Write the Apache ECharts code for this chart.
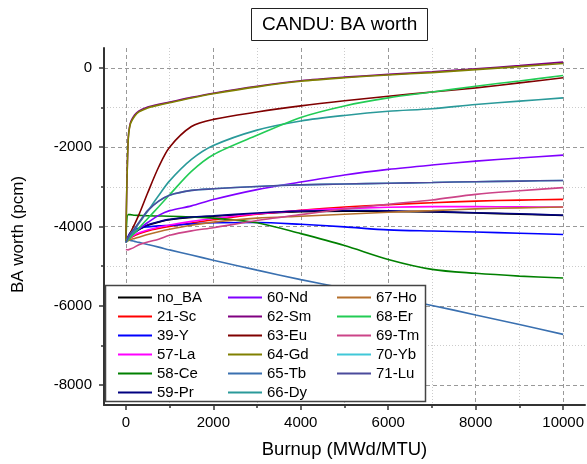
<!DOCTYPE html>
<html>
<head>
<meta charset="utf-8">
<script src="https://cdn.jsdelivr.net/npm/echarts@6/dist/echarts.min.js"></script>
<style>
  html, body { margin: 0; padding: 0; background: #fff; }
  #chart { width: 587px; height: 464px; }
</style>
</head>
<body>
<div id="chart"></div>
<script>
// burnup points (MWd/MTU)
const burnup = [0, 50, 100, 200, 300, 500, 750, 1000, 1500, 2000, 3000, 4000, 5000, 6000, 7000, 8000, 9000, 10000]

// BA worth (pcm)
const noBA = [-4400, -4330, -4260, -4160, -4080, -3970, -3890, -3830, -3770, -3740, -3680, -3630, -3615, -3620, -3635, -3660, -3690, -3720]
const sc21 = [-4400, -4340, -4290, -4230, -4180, -4110, -4050, -4000, -3910, -3830, -3690, -3590, -3510, -3450, -3400, -3360, -3335, -3315]
const y39 = [-4400, -4250, -4150, -4080, -4040, -4010, -3985, -3970, -3935, -3905, -3900, -3945, -4010, -4085, -4115, -4140, -4170, -4200]
const la57 = [-4400, -4330, -4280, -4210, -4160, -4090, -4020, -3960, -3870, -3800, -3680, -3600, -3550, -3515, -3500, -3500, -3505, -3510]
const ce58 = [-4370, -3700, -3700, -3715, -3720, -3730, -3735, -3740, -3760, -3790, -3905, -4180, -4480, -4830, -5080, -5180, -5250, -5300]
const pr59 = [-4400, -4320, -4250, -4150, -4070, -3960, -3880, -3820, -3760, -3730, -3660, -3610, -3595, -3605, -3625, -3652, -3680, -3715]
const nd60 = [-4350, -4290, -4230, -4140, -4060, -3900, -3720, -3600, -3480, -3320, -3070, -2880, -2700, -2560, -2450, -2352, -2275, -2200]
const sm62 = [-4370, -1870, -1400, -1190, -1085, -990, -920, -865, -745, -640, -465, -325, -235, -165, -100, -25, 55, 145]
const eu63 = [-4400, -4290, -4170, -3940, -3700, -3150, -2500, -2000, -1480, -1300, -1115, -960, -830, -715, -610, -505, -380, -252]
const gd64 = [-4370, -1900, -1430, -1220, -1110, -1010, -940, -880, -760, -655, -480, -340, -250, -180, -120, -45, 30, 110]
const tb65 = [-4320, -4335, -4350, -4375, -4400, -4455, -4520, -4590, -4720, -4850, -5100, -5340, -5560, -5770, -5990, -6230, -6470, -6720]
const dy66 = [-4400, -4320, -4240, -4080, -3920, -3610, -3220, -2850, -2310, -1960, -1570, -1340, -1200, -1095, -1030, -925, -840, -757]
const ho67 = [-4400, -4360, -4330, -4300, -4270, -4200, -4130, -4070, -3970, -3890, -3790, -3740, -3690, -3640, -3600, -3555, -3530, -3510]
const er68 = [-4400, -4340, -4280, -4160, -4040, -3800, -3500, -3200, -2610, -2190, -1700, -1250, -960, -757, -610, -463, -330, -194]
const tm69 = [-4580, -4590, -4570, -4520, -4460, -4390, -4320, -4220, -4110, -4030, -3850, -3700, -3560, -3440, -3330, -3190, -3100, -3020]
const yb70 = [-4400, -4300, -4200, -4050, -3900, -3600, -3360, -3210, -3090, -3050, -2990, -2950, -2930, -2910, -2890, -2870, -2855, -2840]
const lu71 = [-4400, -4300, -4200, -4050, -3900, -3600, -3360, -3210, -3090, -3050, -2990, -2950, -2930, -2910, -2890, -2870, -2855, -2840]

const names = ['no_BA', '21-Sc', '39-Y', '57-La', '58-Ce', '59-Pr', '60-Nd', '62-Sm', '63-Eu', '64-Gd', '65-Tb', '66-Dy', '67-Ho', '68-Er', '69-Tm', '70-Yb', '71-Lu']
const values = [noBA, sc21, y39, la57, ce58, pr59, nd60, sm62, eu63, gd64, tb65, dy66, ho67, er68, tm69, yb70, lu71]
const colors = ['#000000', '#ff0000', '#0000ff', '#ff00ff', '#008000', '#000080', '#8000ff', '#800080', '#800000', '#808000',
  '#3a70b0', '#2a9a9a', '#b5702c', '#22cc55', '#cc4488', '#40c8d8', '#4b4b9b']

const xMajor = [0, 2000, 4000, 6000, 8000, 10000]
const xMinor = [1000, 3000, 5000, 7000, 9000]
const yMajor = [-8000, -6000, -4000, -2000, 0]
const yMinor = [-7000, -5000, -3000, -1000]

const font = 'Liberation Sans, Arial, sans-serif'

const chart = echarts.init(document.getElementById('chart'))

const series = names.map((n, i) => ({
  name: n,
  type: 'line',
  xAxisIndex: 0,
  yAxisIndex: 0,
  showSymbol: false,
  smooth: 0.3,
  lineStyle: { width: 1.6, color: colors[i] },
  itemStyle: { color: colors[i] },
  data: burnup.map((b, k) => [b, values[i][k]])
}))

const legendBase = {
  orient: 'vertical',
  top: 290,
  padding: 0,
  itemWidth: 34,
  itemHeight: 2,
  itemGap: 4,
  icon: 'rect',
  z: 101,
  selectedMode: false,
  textStyle: { fontFamily: font, fontSize: 15, lineHeight: 15, color: '#000' }
}

chart.setOption({
  animation: false,
  title: {
    text: 'CANDU: BA worth',
    left: 251,
    top: 8,
    padding: [7, 11],
    borderColor: '#222',
    borderWidth: 1,
    textStyle: { fontFamily: font, fontSize: 19, fontWeight: 'normal', color: '#000' }
  },
  grid: { left: 104, right: 1, top: 48, bottom: 58 },
  legend: [
    Object.assign({}, legendBase, { left: 118, data: names.slice(0, 6) }),
    Object.assign({}, legendBase, { left: 228, data: names.slice(6, 12) }),
    Object.assign({}, legendBase, { left: 337, data: names.slice(12) })
  ],
  graphic: [{
    type: 'rect',
    z: 100,
    shape: { x: 105.5, y: 285.5, width: 320, height: 116 },
    style: { fill: '#fff', stroke: '#444', lineWidth: 1.5 }
  }],
  xAxis: [{
    type: 'value',
    min: -500,
    max: 10500,
    name: 'Burnup (MWd/MTU)',
    nameLocation: 'middle',
    nameGap: 35,
    nameTextStyle: { fontFamily: font, fontSize: 18.5, color: '#000' },
    axisLine: { show: true, onZero: false, lineStyle: { color: '#333', width: 2 } },
    axisTick: { show: true, length: 5, customValues: xMajor, lineStyle: { color: '#333', width: 1.5 } },
    axisLabel: { customValues: xMajor, margin: 10, fontFamily: font, fontSize: 15, color: '#000', formatter: v => String(v) },
    splitLine: { show: true, lineStyle: { color: '#999', type: [4, 3], width: 1 } }
  }, {
    type: 'value',
    min: -500,
    max: 10500,
    position: 'bottom',
    axisLine: { show: false, onZero: false },
    axisTick: { show: true, length: 3, customValues: xMinor, lineStyle: { color: '#333', width: 1.5 } },
    axisLabel: { show: false },
    splitLine: { show: true, lineStyle: { color: '#ccc', type: [1, 2], width: 1 } }
  }],
  yAxis: [{
    type: 'value',
    min: -8500,
    max: 500,
    name: 'BA worth (pcm)',
    nameLocation: 'middle',
    nameGap: 77,
    nameTextStyle: { fontFamily: font, fontSize: 17, color: '#000', padding: [0, 16, 0, 0] },
    axisLine: { show: true, onZero: false, lineStyle: { color: '#333', width: 2 } },
    axisTick: { show: true, length: 5, customValues: yMajor, lineStyle: { color: '#333', width: 1.5 } },
    axisLabel: { customValues: yMajor, margin: 12, fontFamily: font, fontSize: 15, color: '#000', formatter: v => String(v) },
    splitLine: { show: true, lineStyle: { color: '#999', type: [4, 3], width: 1 } }
  }, {
    type: 'value',
    min: -8500,
    max: 500,
    position: 'left',
    axisLine: { show: false, onZero: false },
    axisTick: { show: true, length: 3, customValues: yMinor, lineStyle: { color: '#333', width: 1.5 } },
    axisLabel: { show: false },
    splitLine: { show: true, lineStyle: { color: '#ccc', type: [1, 2], width: 1 } }
  }],
  series: series
})
</script>
</body>
</html>
